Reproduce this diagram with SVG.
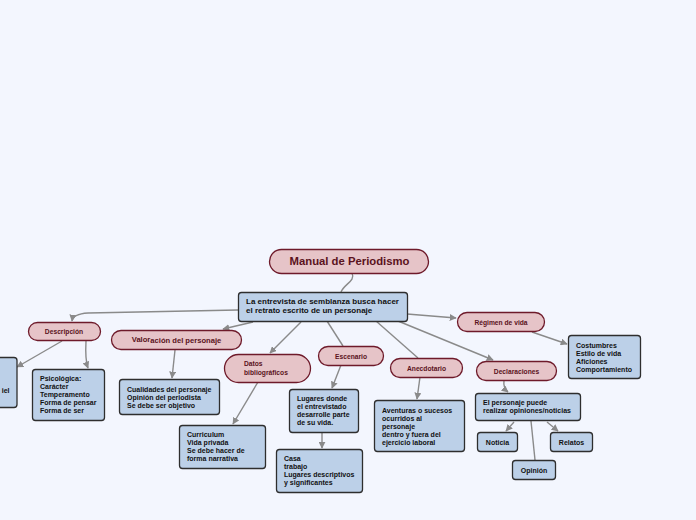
<svg xmlns="http://www.w3.org/2000/svg" width="696" height="520" viewBox="0 0 696 520">
<defs>
<marker id="arr" viewBox="0 0 10 10" refX="9" refY="5" markerWidth="7" markerHeight="7" markerUnits="userSpaceOnUse" orient="auto">
<path d="M0,0 L10,5 L0,10 z" fill="#8a8a8a"/>
</marker>
<style>
.bg{fill:#f3f6fe}
.pk{fill:#e6c4c8;stroke:#6e1a2a;stroke-width:1.3}
.bl{fill:#bcd0e8;stroke:#2e2e2e;stroke-width:1.3}
.pt{font-family:"Liberation Sans",Arial,sans-serif;font-weight:bold;font-size:6.7px;fill:#5a1220}
.bt{font-family:"Liberation Sans",Arial,sans-serif;font-weight:bold;font-size:7px;fill:#111}
.mt{font-family:"Liberation Sans",Arial,sans-serif;font-weight:bold;font-size:8px;fill:#111}
.c{fill:none;stroke:#8a8a8a;stroke-width:1.4}
.a{marker-end:url(#arr)}
</style>
</defs>
<rect class="bg" x="0" y="0" width="696" height="520"/>
<g id="connectors">
<path class="c" d="M352,273 C356,281 344,284 341,292"/>
<path class="c a" d="M238,310 L88,313 Q73,314 72,321"/>
<path class="c a" d="M253,322 L223,329"/>
<path class="c a" d="M301,322 L270,353"/>
<path class="c" d="M327,321 L343,346"/>
<path class="c" d="M376,321 L418,358"/>
<path class="c a" d="M407,314 L456,318"/>
<path class="c a" d="M398,321 L493,360"/>
<path class="c a" d="M62,341 L17,367"/>
<path class="c a" d="M86,341 Q85,360 88,368"/>
<path class="c a" d="M175,350 L172,378"/>
<path class="c a" d="M258,382 L233,424"/>
<path class="c a" d="M341,365 L332,388"/>
<path class="c a" d="M322,433 L322,448"/>
<path class="c a" d="M420,377 L417,399"/>
<path class="c a" d="M532,332 L567,344"/>
<path class="c a" d="M504,380 Q503,388 508,392"/>
<path class="c a" d="M514,422 L506,431"/>
<path class="c a" d="M547,422 L558,431"/>
<path class="c" d="M531,421 L535,460"/>
</g>
<g id="title">
<rect class="pk" x="269.5" y="249.5" width="159" height="24" rx="12"/>
<text x="349.5" y="265" text-anchor="middle" font-family="Liberation Sans,Arial,sans-serif" font-weight="bold" font-size="11.3" fill="#5a1220">Manual de Periodismo</text>
</g>
<g id="main">
<rect class="bl" x="238.5" y="292.5" width="169" height="29" rx="3"/>
<text class="mt"><tspan x="246" y="304">La entrevista de semblanza busca hacer</tspan><tspan x="246" y="313">el retrato escrito de un personaje</tspan></text>
</g>
<g id="descripcion">
<rect class="pk" x="28.5" y="322.5" width="72" height="18" rx="9"/>
<text class="pt" x="64" y="334" text-anchor="middle">Descripción</text>
</g>
<g id="valoracion">
<rect class="pk" x="111.5" y="330.5" width="130" height="19" rx="9.5"/>
<text class="pt" style="font-size:7.6px" x="176.5" y="342.5" text-anchor="middle"><tspan dy="-0.8">Valor</tspan><tspan dy="0.8">ación del personaje</tspan></text>
</g>
<g id="datos">
<rect class="pk" x="224.5" y="354.5" width="86" height="28" rx="14"/>
<text class="pt"><tspan x="244" y="366">Datos</tspan><tspan x="244" y="375">bibliográficos</tspan></text>
</g>
<g id="escenario">
<rect class="pk" x="318.5" y="346.5" width="65" height="19" rx="9.5"/>
<text class="pt" x="351" y="358.5" text-anchor="middle">Escenario</text>
</g>
<g id="anecdotario">
<rect class="pk" x="390.5" y="358.5" width="72" height="19" rx="9.5"/>
<text class="pt" x="426.5" y="370.5" text-anchor="middle">Anecdotario</text>
</g>
<g id="regimen">
<rect class="pk" x="457.5" y="312.5" width="87" height="19" rx="9.5"/>
<text class="pt" x="501" y="324.5" text-anchor="middle">Régimen de vida</text>
</g>
<g id="declaraciones">
<rect class="pk" x="476.5" y="361.5" width="80" height="19" rx="9.5"/>
<text class="pt" x="516.5" y="373.5" text-anchor="middle">Declaraciones</text>
</g>
<g id="fisico">
<rect class="bl" x="-20" y="357.5" width="37" height="50" rx="3"/>
<text class="bt" x="9.5" y="393" text-anchor="end">iel</text>
</g>
<g id="psicologica">
<rect class="bl" x="32.5" y="369.5" width="72" height="51" rx="3"/>
<text class="bt"><tspan x="40" y="381">Psicológica:</tspan><tspan x="40" y="389">Carácter</tspan><tspan x="40" y="397">Temperamento</tspan><tspan x="40" y="405">Forma de pensar</tspan><tspan x="40" y="413">Forma de ser</tspan></text>
</g>
<g id="cualidades">
<rect class="bl" x="119.5" y="379.5" width="100" height="35" rx="3"/>
<text class="bt"><tspan x="127" y="392">Cualidades del personaje</tspan><tspan x="127" y="400">Opinión del periodista</tspan><tspan x="127" y="408">Se debe ser objetivo</tspan></text>
</g>
<g id="curriculum">
<rect class="bl" x="179.5" y="425.5" width="86" height="43" rx="3"/>
<text class="bt"><tspan x="187" y="437">Curriculum</tspan><tspan x="187" y="445">Vida privada</tspan><tspan x="187" y="453">Se debe hacer de</tspan><tspan x="187" y="461">forma narrativa</tspan></text>
</g>
<g id="lugares">
<rect class="bl" x="289.5" y="389.5" width="69" height="43" rx="3"/>
<text class="bt"><tspan x="297" y="401">Lugares donde</tspan><tspan x="297" y="409">el entrevistado</tspan><tspan x="297" y="417">desarrolle parte</tspan><tspan x="297" y="425">de su vida.</tspan></text>
</g>
<g id="casa">
<rect class="bl" x="276.5" y="449.5" width="86" height="43" rx="3"/>
<text class="bt"><tspan x="284" y="461">Casa</tspan><tspan x="284" y="469">trabajo</tspan><tspan x="284" y="477">Lugares descriptivos</tspan><tspan x="284" y="485">y significantes</tspan></text>
</g>
<g id="aventuras">
<rect class="bl" x="374.5" y="400.5" width="90" height="51" rx="3"/>
<text class="bt"><tspan x="382" y="413">Aventuras o sucesos</tspan><tspan x="382" y="421">ocurridos al</tspan><tspan x="382" y="429">personaje</tspan><tspan x="382" y="437">dentro y fuera del</tspan><tspan x="382" y="445">ejercicio laboral</tspan></text>
</g>
<g id="costumbres">
<rect class="bl" x="568.5" y="335.5" width="72" height="43" rx="3"/>
<text class="bt"><tspan x="576" y="348">Costumbres</tspan><tspan x="576" y="356">Estilo de vida</tspan><tspan x="576" y="364">Aficiones</tspan><tspan x="576" y="372">Comportamiento</tspan></text>
</g>
<g id="personaje">
<rect class="bl" x="475.5" y="393.5" width="105" height="27" rx="3"/>
<text class="bt"><tspan x="483" y="405">El personaje puede</tspan><tspan x="483" y="413">realizar opiniones/noticias</tspan></text>
</g>
<g id="noticia">
<rect class="bl" x="477.5" y="432.5" width="40" height="19" rx="3"/>
<text class="bt" x="497.5" y="444.5" text-anchor="middle">Noticia</text>
</g>
<g id="relatos">
<rect class="bl" x="550.5" y="432.5" width="42" height="19" rx="3"/>
<text class="bt" x="571.5" y="444.5" text-anchor="middle">Relatos</text>
</g>
<g id="opinion">
<rect class="bl" x="512.5" y="460.5" width="43" height="19" rx="3"/>
<text class="bt" x="534" y="472.5" text-anchor="middle">Opinión</text>
</g>
</svg>
